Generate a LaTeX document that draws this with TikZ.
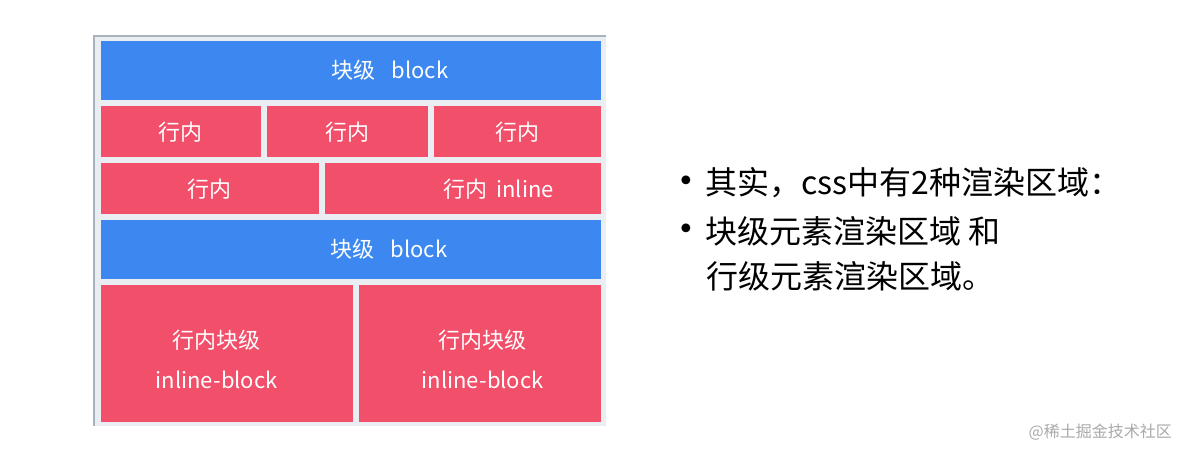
\documentclass[tikz,border=0pt]{standalone}
\usepackage{fontspec}
\usepackage{xcolor}
\usepackage{tikz}
\usetikzlibrary{positioning}
\newfontfamily\cjk{Noto Sans CJK SC}
\newfontfamily\symf{DejaVu Sans}
\definecolor{blockblue}{RGB}{60,135,240}
\definecolor{inlinered}{RGB}{242,80,106}
\definecolor{panelbg}{RGB}{234,237,242}
\definecolor{panelline}{RGB}{170,178,188}
\definecolor{markgray}{RGB}{170,170,170}

\begin{document}
\begin{tikzpicture}[
  x=1pt, y=-1pt,
  blk_box/.style ={fill=blockblue, inner sep=0pt, minimum width=500pt, minimum height=59pt},
  inl_box/.style ={fill=inlinered, inner sep=0pt, minimum height=51pt},
  ib_box/.style  ={fill=inlinered, inner sep=0pt, minimum height=137pt},
  box_txt/.style ={text=white, font=\cjk\fontsize{22}{26}\selectfont, inner sep=0pt, align=center},
  note_txt/.style={text=black, font=\cjk\fontsize{32}{38}\selectfont, inner sep=0pt, anchor=west},
  dot_txt/.style ={text=black, font=\symf\fontsize{30}{36}\selectfont, inner sep=0pt, anchor=west},
]
  \useasboundingbox[fill=white] (0,0) rectangle (1187,457);

  % panel
  \fill[panelbg] (94,36) rectangle (606,426);
  \draw[panelline, line width=1.5pt] (94,426) -- (94,36) -- (606,36);

  % row 1
  \node[blk_box]                       (blk1)  at (350.7,70.5) {};
  \node[box_txt]                       (blk1t) at ([xshift=39pt]blk1.center) {块级\hspace{0.75em}block};

  % row 2
  \node[inl_box, minimum width=160pt]  (in1)   at (180.7,132) {};
  \node[inl_box, minimum width=161pt]  (in2)   at (347.2,132) {};
  \node[inl_box, minimum width=167pt]  (in3)   at (517.3,132) {};
  \node[box_txt]                       (in1t)  at (in1.center) {行内};
  \node[box_txt]                       (in2t)  at (in2.center) {行内};
  \node[box_txt]                       (in3t)  at (in3.center) {行内};

  % row 3
  \node[inl_box, minimum width=218pt]  (in4)   at (209.7,189) {};
  \node[inl_box, minimum width=276pt]  (in5)   at (462.8,189) {};
  \node[box_txt]                       (in4t)  at (in4.center) {行内};
  \node[box_txt]                       (in5t)  at ([xshift=36pt]in5.center) {行内\hspace{0.4em}inline};

  % row 4
  \node[blk_box]                       (blk2)  at (350.7,249.6) {};
  \node[box_txt]                       (blk2t) at ([xshift=38pt]blk2.center) {块级\hspace{0.75em}block};

  % row 5
  \node[ib_box, minimum width=252pt]   (ib1)   at (226.7,353.5) {};
  \node[ib_box, minimum width=242pt]   (ib2)   at (479.7,353.5) {};
  \node[box_txt]                       (ib1t)  at ([xshift=-10pt, yshift=-6pt]ib1.center) {行内块级\\[14pt]inline-block};
  \node[box_txt]                       (ib2t)  at ([xshift=3pt, yshift=-6pt]ib2.center)   {行内块级\\[14pt]inline-block};

  % notes
  \node[dot_txt]                       (dot1)  at (677,184) {•};
  \node[note_txt]                      (ln1)   at (705,183) {其实，css中有2种渲染区域：};
  \node[dot_txt]                       (dot2)  at (677,232) {•};
  \node[note_txt]                      (ln2)   at (705,231) {块级元素渲染区域 和};
  \node[note_txt]                      (ln3)   at (706,276) {行级元素渲染区域。};

  \node[text=markgray, font=\cjk\fontsize{16}{18}\selectfont, inner sep=0pt, anchor=east] (mark) at (1172,432) {@稀土掘金技术社区};
\end{tikzpicture}
\end{document}
